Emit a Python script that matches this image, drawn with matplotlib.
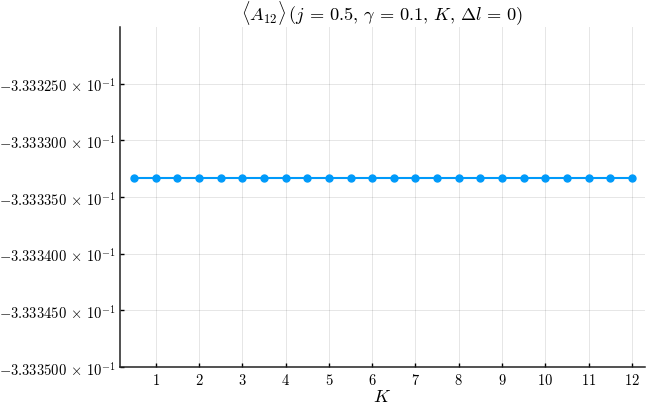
import matplotlib
matplotlib.use("Agg")
import matplotlib.pyplot as plt
from matplotlib.ticker import FixedLocator

plt.rcParams['mathtext.fontset'] = 'cm'
plt.rcParams['font.family'] = 'serif'
plt.rcParams['font.serif'] = ['DejaVu Serif']

K = [0.5, 1.0, 1.5, 2.0, 2.5, 3.0, 3.5, 4.0, 4.5, 5.0, 5.5, 6.0,
     6.5, 7.0, 7.5, 8.0, 8.5, 9.0, 9.5, 10.0, 10.5, 11.0, 11.5, 12.0]
A12 = [-0.3333333333] * 24

x_ticks = [1, 2, 3, 4, 5, 6, 7, 8, 9, 10, 11, 12]
y_ticks = [-0.3333250, -0.3333300, -0.3333350, -0.3333400, -0.3333450, -0.3333500]
y_tick_labels = ["-3.333250", "-3.333300", "-3.333350", "-3.333400", "-3.333450", "-3.333500"]

fig = plt.figure(figsize=(6.48, 4.06), dpi=100)
ax = fig.add_axes([0.185, 0.094, 0.81, 0.837])

blue = '#009AFA'
ax.plot(K, A12, color=blue, lw=1.5, marker='o', ms=5, markeredgecolor=blue, zorder=3)

ax.set_xlim(0.17, 12.3)
ax.set_ylim(-0.3333500, -0.3333200)

ax.xaxis.set_major_locator(FixedLocator(x_ticks))
ax.set_xticklabels([f"${t}$" for t in x_ticks])
ax.yaxis.set_major_locator(FixedLocator(y_ticks))
ax.set_yticklabels([f"${l}\\,\\times\\,10^{{-1}}$" for l in y_tick_labels])

ax.tick_params(direction='in', length=3, width=1, labelsize=10.5, color='black')
ax.tick_params(axis='y', pad=3)
ax.tick_params(axis='x', pad=4)

ax.grid(True, color='black', alpha=0.1, lw=0.7)
ax.set_axisbelow(True)
for s in ['top', 'right']:
    ax.spines[s].set_visible(False)
for s in ['left', 'bottom']:
    ax.spines[s].set_linewidth(1.1)
    ax.spines[s].set_color('#222222')

ax.set_title(r"$\langle A_{12}\rangle\,(j\,=\,0.5,\,\gamma\,=\,0.1,\,K,\,\Delta l\,=\,0)$", fontsize=13.2, pad=6)
ax.set_xlabel(r"$K$", fontsize=13, labelpad=0)

fig.savefig("out.png", dpi=100)
